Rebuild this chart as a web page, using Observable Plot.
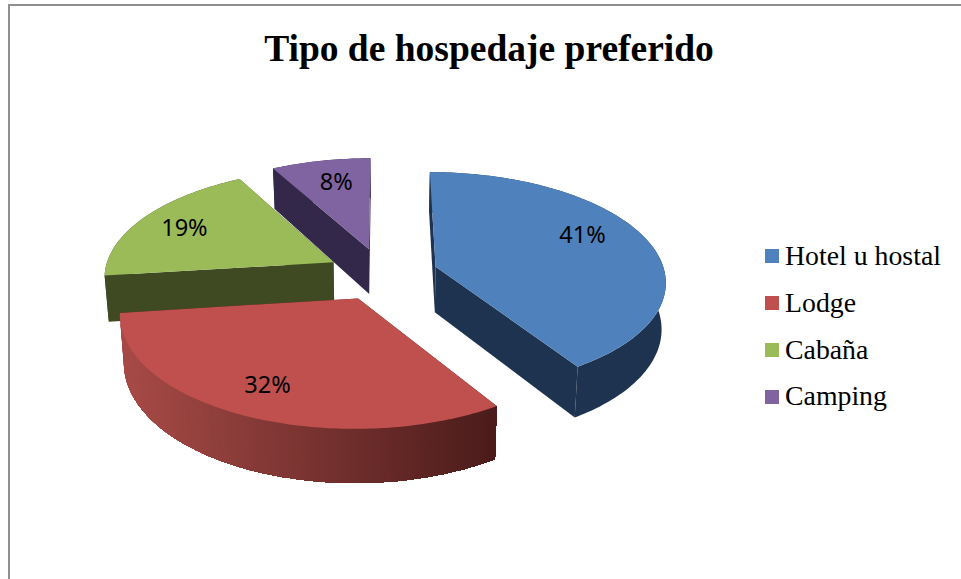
<!DOCTYPE html>
<html><head><meta charset="utf-8">
<script src="https://cdn.jsdelivr.net/npm/d3@7"></script>
<script src="https://cdn.jsdelivr.net/npm/@observablehq/plot@0.6"></script>
<style>
html,body{margin:0;padding:0;background:#fff;overflow:hidden}
#page{position:relative;width:961px;height:579px;overflow:hidden}
#frame{position:absolute;left:8px;top:4px;width:960px;height:600px;border-left:2px solid #8f8f8f;border-top:2px solid #8f8f8f}
#title{position:absolute;left:0;top:26px;width:978px;text-align:center;font:bold 37.5px "Liberation Serif",serif;color:#000;line-height:46px;white-space:nowrap}
#chart{position:absolute;left:0;top:0}
#legend{position:absolute;left:765px;top:233px;font:27.8px "Liberation Serif",serif;color:#000}
#legend div{height:46.8px;line-height:46.8px;white-space:nowrap;display:flex;align-items:center}
#legend i{display:inline-block;width:14px;height:14px;margin-right:6px}
</style></head><body>
<div id="page"><div id="frame"></div><div id="chart"></div><div id="title">Tipo de hospedaje preferido</div><div id="legend"></div></div>
<script>
const categories = ["Hotel u hostal","Lodge","Cabaña","Camping"];
const shares = [41,32,19,8];
const topColors = ["#4f81bd","#c0504d","#9bbb59","#8064a2"];
const wallColors = ["#1e334f","#4c1c1b","#404a22","#33274a"];
const redWallRamp = ["#a84b47","#4b1c1b"];
const labelTurn = [-7.8,0.9,-1.3,1.4];
const labelRadius = [0.742,0.775,0.77,0.733];
const paintOrder = [3,2,0,1];

// camera for the tilted pie
const W=961,H=579,cx=382,cy=273.5,ax=229.5,ay=107.9,k=0.123,explode=0.243,depth=46,shrink=0.985;
const rad=d=>d*Math.PI/180;
function project(gx,gz,low){
  const s=1/(1+k*gz);
  let x=cx+ax*gx*s, y=cy-ay*gz*s;
  if(low){x=cx+(x-cx)*shrink; y+=depth*s;}
  return {x,y};
}
const total=d3.sum(shares);
let run=0;
const slices=shares.map((v,i)=>{
  const a0=run/total*360; run+=v; const a1=run/total*360; const mid=(a0+a1)/2;
  return {i,a0,a1,mid,ox:explode*Math.sin(rad(mid)),oz:explode*Math.cos(rad(mid))};
});
const rim=(s,a,low)=>project(s.ox+Math.sin(rad(a)),s.oz+Math.cos(rad(a)),low);
const hub=(s,low)=>project(s.ox,s.oz,low);

const polys=[]; let pid=0;
const add=(pts,color)=>{const id=pid++;pts.forEach(p=>polys.push({x:p.x,y:p.y,id,color}));};
for(const i of paintOrder){
  const s=slices[i];
  const n=Math.max(8,Math.round((s.a1-s.a0)));
  const as=d3.range(n+1).map(j=>s.a0+(s.a1-s.a0)*j/n);
  // radial faces
  add([hub(s,false),rim(s,s.a0,false),rim(s,s.a0,true),hub(s,true)],wallColors[i]);
  add([hub(s,false),rim(s,s.a1,false),rim(s,s.a1,true),hub(s,true)],wallColors[i]);
  // outer wall: bands painted over each other so no seams show; the red one darkens left to right
  if(i===1){
    const xr=rim(s,s.a0,false).x, xl=rim(s,s.a1,false).x;
    for(let j=n-1;j>=0;j--){
      const t=(rim(s,as[j],false).x-xl)/(xr-xl);
      const c=d3.interpolateRgb(redWallRamp[0],redWallRamp[1])(t);
      const rest=as.slice(0,j+2);
      add([...rest.map(a=>rim(s,a,false)),...rest.slice().reverse().map(a=>rim(s,a,true))],c);
    }
  } else {
    add([...as.map(a=>rim(s,a,false)),...as.slice().reverse().map(a=>rim(s,a,true))],wallColors[i]);
  }
  // top
  add([hub(s,false),...as.map(a=>rim(s,a,false))],topColors[i]);
}
const labels=slices.map(s=>{
  const a=s.mid+labelTurn[s.i], r=labelRadius[s.i];
  const p=project(s.ox+r*Math.sin(rad(a)),s.oz+r*Math.cos(rad(a)),false);
  return {x:p.x,y:p.y,t:shares[s.i]+"%"};
});

const chart=Plot.plot({
  width:W,height:H,margin:0,
  x:{domain:[0,W],range:[0,W],axis:null},
  y:{domain:[0,H],range:[0,H],axis:null},
  color:{type:"identity"},
  style:{background:"transparent"},
  marks:[
    Plot.line(polys,{x:"x",y:"y",z:"id",fill:"color",stroke:"none",curve:"linear-closed"}),
    Plot.text(labels,{x:"x",y:"y",text:"t",fontSize:23.5,fontFamily:"'Noto Sans'",fill:"#000"})
  ]
});
document.getElementById("chart").append(chart);
const lg=document.getElementById("legend");
categories.forEach((c,i)=>{
  const d=document.createElement("div");
  const sw=document.createElement("i"); sw.style.background=topColors[i];
  d.append(sw,document.createTextNode(c)); lg.append(d);
});
</script></body></html>
